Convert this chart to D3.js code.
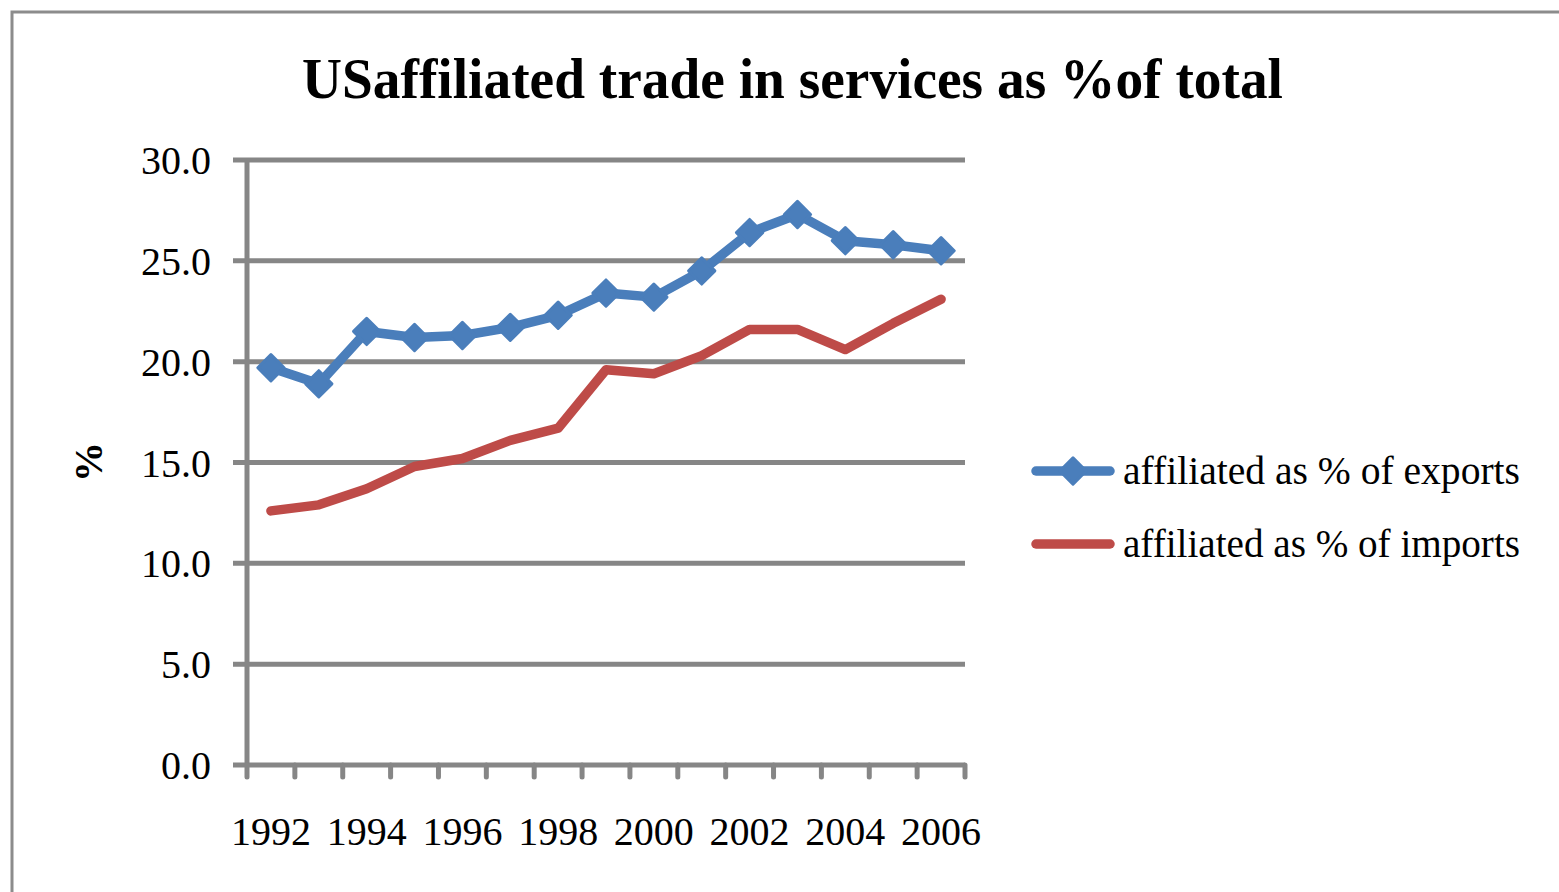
<!DOCTYPE html>
<html>
<head>
<meta charset="utf-8">
<script src="https://cdn.jsdelivr.net/npm/d3@7"></script>
<style>
  body { margin: 0; background: #fff; }
  text { font-family: "Liberation Serif", "Times New Roman", serif; }
</style>
</head>
<body>
<svg id="chart" width="1559" height="892"></svg>
<script>
var years = ["1992","1993","1994","1995","1996","1997","1998","1999","2000","2001","2002","2003","2004","2005","2006"];
var exportsPct = [19.7, 18.9, 21.5, 21.2, 21.3, 21.7, 22.3, 23.4, 23.2, 24.5, 26.4, 27.3, 26.0, 25.8, 25.5];
var importsPct = [12.6, 12.9, 13.7, 14.8, 15.2, 16.1, 16.7, 19.6, 19.4, 20.3, 21.6, 21.6, 20.6, 21.9, 23.1];
var yTicks = [0, 5, 10, 15, 20, 25, 30];
var seriesNames = ["affiliated as % of exports", "affiliated as % of imports"];

var svg = d3.select("#chart");
var grey = "#868686", blue = "#4A7EBB", red = "#BE4B48";

// outer frame (cropped chart border)
svg.append("path")
    .attr("d", "M12,892 L12,12 L1559,12")
    .attr("fill", "none").attr("stroke", "#8c8c8c").attr("stroke-width", 3);

var plotLeft = 247, plotRight = 965, plotTop = 160, plotBottom = 765;

var x = d3.scaleBand().domain(years).range([plotLeft, plotRight]);
var y = d3.scaleLinear().domain([0, 30]).range([plotBottom, plotTop]);

// gridlines
svg.append("g").selectAll("line")
    .data(yTicks.filter(function(d) { return d > 0; }))
    .enter().append("line")
    .attr("x1", plotLeft - 14).attr("x2", plotRight)
    .attr("y1", y).attr("y2", y)
    .attr("stroke", grey).attr("stroke-width", 5);

// y axis
svg.append("line")
    .attr("x1", plotLeft).attr("x2", plotLeft).attr("y1", plotTop).attr("y2", plotBottom)
    .attr("stroke", grey).attr("stroke-width", 5);

svg.append("g").selectAll("text")
    .data(yTicks)
    .enter().append("text")
    .attr("x", 211).attr("y", function(d) { return y(d) + 14; })
    .attr("text-anchor", "end")
    .attr("font-size", 40)
    .text(function(d) { return d3.format(".1f")(d); });

// x axis line + ticks
svg.append("line")
    .attr("x1", plotLeft - 14).attr("x2", plotRight).attr("y1", plotBottom).attr("y2", plotBottom)
    .attr("stroke", grey).attr("stroke-width", 5);

var edges = years.map(function(d) { return x(d); }).concat([plotRight]);
svg.append("g").selectAll("line")
    .data(edges)
    .enter().append("line")
    .attr("x1", function(d) { return d; }).attr("x2", function(d) { return d; })
    .attr("y1", plotBottom).attr("y2", plotBottom + 12)
    .attr("stroke", grey).attr("stroke-width", 5).attr("stroke-linecap", "round");

svg.append("g").selectAll("text")
    .data(years.filter(function(d, i) { return i % 2 === 0; }))
    .enter().append("text")
    .attr("x", function(d) { return x(d) + x.bandwidth() / 2; })
    .attr("y", 845)
    .attr("text-anchor", "middle")
    .attr("font-size", 40)
    .text(function(d) { return d; });

// y title
svg.append("text")
    .attr("transform", "translate(102,462) rotate(-90)")
    .attr("text-anchor", "middle")
    .attr("font-size", 40).attr("font-weight", "bold")
    .text("%");

// title
svg.append("text")
    .attr("x", 302).attr("y", 98)
    .attr("font-size", 58).attr("font-weight", "bold")
    .attr("textLength", 981).attr("lengthAdjust", "spacingAndGlyphs")
    .text("USaffiliated trade in services as %of total");

var line = d3.line()
    .x(function(d, i) { return x(years[i]) + x.bandwidth() / 2; })
    .y(function(d) { return y(d); });

svg.append("path").datum(importsPct)
    .attr("d", line).attr("fill", "none")
    .attr("stroke", red).attr("stroke-width", 9.5)
    .attr("stroke-linecap", "round").attr("stroke-linejoin", "round");

svg.append("path").datum(exportsPct)
    .attr("d", line).attr("fill", "none")
    .attr("stroke", blue).attr("stroke-width", 9.5)
    .attr("stroke-linecap", "round").attr("stroke-linejoin", "round");

var diamond = d3.symbol().type(d3.symbolDiamond2).size(440);

svg.append("g").selectAll("path")
    .data(exportsPct)
    .enter().append("path")
    .attr("transform", function(d, i) {
        return "translate(" + (x(years[i]) + x.bandwidth() / 2) + "," + y(d) + ")";
    })
    .attr("d", diamond)
    .attr("fill", blue).attr("stroke", blue).attr("stroke-width", 3).attr("stroke-linejoin", "round");

// legend
var legend = svg.append("g");
var legendY = [471, 544];
var legendColor = [blue, red];
seriesNames.forEach(function(name, i) {
    legend.append("line")
        .attr("x1", 1036).attr("x2", 1110).attr("y1", legendY[i]).attr("y2", legendY[i])
        .attr("stroke", legendColor[i]).attr("stroke-width", 9.5).attr("stroke-linecap", "round");
    if (i === 0) {
        legend.append("path")
            .attr("transform", "translate(1073," + legendY[i] + ")")
            .attr("d", diamond)
            .attr("fill", blue).attr("stroke", blue).attr("stroke-width", 3).attr("stroke-linejoin", "round");
    }
    legend.append("text")
        .attr("x", 1123).attr("y", legendY[i] + 13)
        .attr("font-size", 40)
        .attr("textLength", 397).attr("lengthAdjust", "spacingAndGlyphs")
        .text(name);
});
</script>
</body>
</html>
